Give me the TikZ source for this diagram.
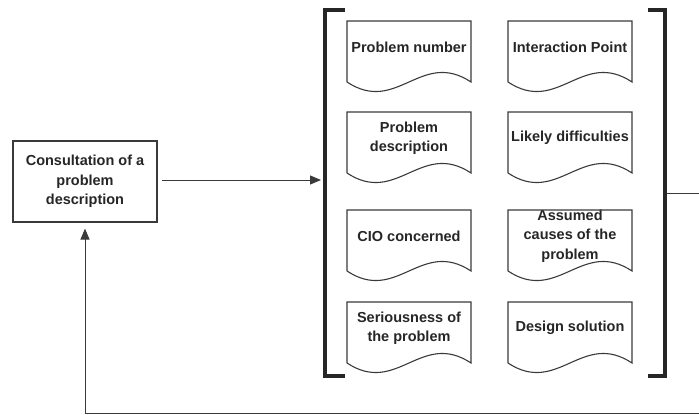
\documentclass[tikz,border=0pt]{standalone}
\usepackage{fontspec}
\setmainfont{Liberation Sans}
\usetikzlibrary{arrows.meta}

\definecolor{ink}{HTML}{262626}
\definecolor{wire}{HTML}{3A3A3A}

\tikzset{
  lbl/.style={font=\bfseries\fontsize{14.5}{19.5}\selectfont, text=ink, align=center, inner sep=0pt},
  docline/.style={draw=wire, line width=1.1pt, line join=miter},
  conn/.style={draw=wire, line width=1pt},
  tip/.style={-{Triangle[length=11pt,width=9pt]}},
  bracket/.style={draw=ink, line width=4pt, line join=miter, line cap=butt},
  procbox/.style={lbl, draw=wire, line width=1.1pt, minimum width=144pt, minimum height=81pt}
}

% document symbol: name, left x, top y, label
\newcommand\docsym[4]{%
  \node[lbl] (#1) at (#2+62,#3+26) {#4};
  \draw[docline] (#2,#3+61) -- (#2,#3) -- (#2+124,#3) -- (#2+124,#3+61)
     .. controls +(-50,-33) and +(50,33) .. (#2,#3+61);
}

\begin{document}
\begin{tikzpicture}[x=1pt,y=-1pt]
\useasboundingbox (0,0) rectangle (699,415);

% process box
\node[procbox] (consult) at (85,181.5) {Consultation of a\\problem\\description};

% list of documents, two columns
\docsym{pnum}{347}{21}{Problem number}
\docsym{ipoint}{508}{21}{Interaction Point}
\docsym{pdesc}{347}{112}{Problem\\description}
\docsym{likely}{508}{112}{Likely difficulties}
\docsym{cio}{347}{210}{CIO concerned}
\docsym{causes}{508}{210}{Assumed\\causes of the\\problem}
\docsym{serious}{347}{302}{Seriousness of\\the problem}
\docsym{design}{508}{302}{Design solution}

% enclosing brackets
\draw[bracket] (345,10) -- (325,10) -- (325,376) -- (345,376);
\draw[bracket] (648,10) -- (665,10) -- (665,376) -- (648,376);

% connector anchors
\coordinate (boxout) at (162,180);
\coordinate (brin) at (321,180);
\coordinate (brout) at (667,193);
\coordinate (exitR) at (699,193);
\coordinate (backR) at (699,413);
\coordinate (backL) at (85,413);

\draw[conn,tip] (boxout) -- (brin);
\draw[conn] (brout) -- (exitR);
\draw[conn] (backR) -- (backL);
\draw[conn,tip,shorten >=6pt] (backL) -- (consult.south);
\end{tikzpicture}
\end{document}
